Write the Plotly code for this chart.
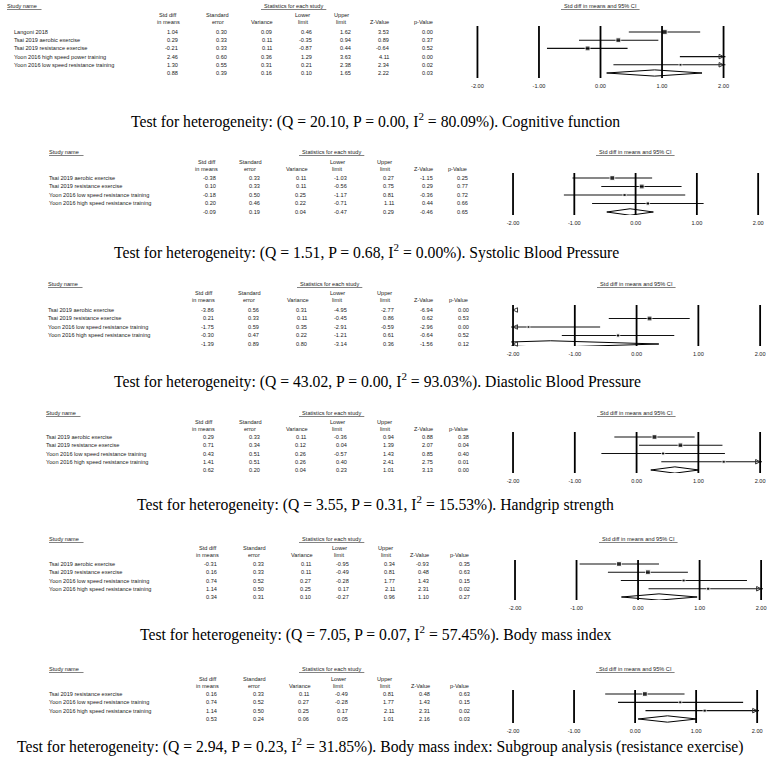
import plotly.graph_objects as go

W, H = 775, 771

# ---- data ----
cog_names = ["Langoni 2018", "Tsai 2019 aerobic exercise", "Tsai 2019 resistance exercise",
             "Yoon 2016 high speed power training", "Yoon 2016 low speed resistance training"]
cog_smd = [1.04, 0.29, -0.21, 2.46, 1.30, 0.88]
cog_se = [0.30, 0.33, 0.33, 0.60, 0.55, 0.39]
cog_var = [0.09, 0.11, 0.11, 0.36, 0.31, 0.16]
cog_lower = [0.46, -0.35, -0.87, 1.29, 0.21, 0.10]
cog_upper = [1.62, 0.94, 0.44, 3.63, 2.38, 1.65]
cog_z = [3.53, 0.89, -0.64, 4.11, 2.34, 2.22]
cog_p = [0.00, 0.37, 0.52, 0.00, 0.02, 0.03]

sbp_names = ["Tsai 2019 aerobic exercise", "Tsai 2019 resistance exercise",
             "Yoon 2016 low speed resistance training", "Yoon 2016 high speed resistance training"]
sbp_smd = [-0.38, 0.10, -0.18, 0.20, -0.09]
sbp_se = [0.33, 0.33, 0.50, 0.46, 0.19]
sbp_var = [0.11, 0.11, 0.25, 0.22, 0.04]
sbp_lower = [-1.03, -0.56, -1.17, -0.71, -0.47]
sbp_upper = [0.27, 0.75, 0.81, 1.11, 0.29]
sbp_z = [-1.15, 0.29, -0.36, 0.44, -0.46]
sbp_p = [0.25, 0.77, 0.72, 0.66, 0.65]

dbp_names = ["Tsai 2019 aerobic exercise", "Tsai 2019 resistance exercise",
             "Yoon 2016 low speed resistance training", "Yoon 2016 high speed resistance training"]
dbp_smd = [-3.86, 0.21, -1.75, -0.30, -1.39]
dbp_se = [0.56, 0.33, 0.59, 0.47, 0.89]
dbp_var = [0.31, 0.11, 0.35, 0.22, 0.80]
dbp_lower = [-4.95, -0.45, -2.91, -1.21, -3.14]
dbp_upper = [-2.77, 0.86, -0.59, 0.61, 0.36]
dbp_z = [-6.94, 0.62, -2.96, -0.64, -1.56]
dbp_p = [0.00, 0.53, 0.00, 0.52, 0.12]

hgs_names = ["Tsai 2019 aerobic exercise", "Tsai 2019 resistance exercise",
             "Yoon 2016 low speed resistance training", "Yoon 2016 high speed resistance training"]
hgs_smd = [0.29, 0.71, 0.43, 1.41, 0.62]
hgs_se = [0.33, 0.34, 0.51, 0.51, 0.20]
hgs_var = [0.11, 0.12, 0.26, 0.26, 0.04]
hgs_lower = [-0.36, 0.04, -0.57, 0.40, 0.23]
hgs_upper = [0.94, 1.39, 1.43, 2.41, 1.01]
hgs_z = [0.88, 2.07, 0.85, 2.75, 3.13]
hgs_p = [0.38, 0.04, 0.40, 0.01, 0.00]

bmi_names = ["Tsai 2019 aerobic exercise", "Tsai 2019 resistance exercise",
             "Yoon 2016 low speed resistance training", "Yoon 2016 high speed resistance training"]
bmi_smd = [-0.31, 0.16, 0.74, 1.14, 0.34]
bmi_se = [0.33, 0.33, 0.52, 0.50, 0.31]
bmi_var = [0.11, 0.11, 0.27, 0.25, 0.10]
bmi_lower = [-0.95, -0.49, -0.28, 0.17, -0.27]
bmi_upper = [0.34, 0.81, 1.77, 2.11, 0.96]
bmi_z = [-0.93, 0.48, 1.43, 2.31, 1.10]
bmi_p = [0.35, 0.63, 0.15, 0.02, 0.27]

sub_names = ["Tsai 2019 resistance exercise", "Yoon 2016 low speed resistance training",
             "Yoon 2016 high speed resistance training"]
sub_smd = [0.16, 0.74, 1.14, 0.53]
sub_se = [0.33, 0.52, 0.50, 0.24]
sub_var = [0.11, 0.27, 0.25, 0.06]
sub_lower = [-0.49, -0.28, 0.17, 0.05]
sub_upper = [0.81, 1.77, 2.11, 1.01]
sub_z = [0.48, 1.43, 2.31, 2.16]
sub_p = [0.63, 0.15, 0.02, 0.03]

captions = [
    "Test for heterogeneity: (Q = 20.10, P = 0.00, I<sup>2</sup> = 80.09%). Cognitive function",
    "Test for heterogeneity: (Q = 1.51, P = 0.68, I<sup>2</sup> = 0.00%). Systolic Blood Pressure",
    "Test for heterogeneity: (Q = 43.02, P = 0.00, I<sup>2</sup> = 93.03%). Diastolic Blood Pressure",
    "Test for heterogeneity: (Q = 3.55, P = 0.31, I<sup>2</sup> = 15.53%). Handgrip strength",
    "Test for heterogeneity: (Q = 7.05, P = 0.07, I<sup>2</sup> = 57.45%). Body mass index",
    "Test for heterogeneity: (Q = 2.94, P = 0.23, I<sup>2</sup> = 31.85%). Body mass index: "
    "Subgroup analysis (resistance exercise)",
]

hdr_top = ["Std diff", "Standard", "", "Lower", "Upper", "", ""]
hdr_bot = ["in means", "error", "Variance", "limit", "limit", "Z-Value", "p-Value"]
tick_vals = [-2, -1, 0, 1, 2]

# ---- where each panel sits on the page (pixels) ----
panels = [
    dict(names=cog_names, cols=[cog_smd, cog_se, cog_var, cog_lower, cog_upper, cog_z, cog_p],
         title_y=6, hdr_y=(15, 22), row0=32, dy=8.2, name_x=7, study_x=0, stats_x=292,
         col_x=[177, 227, 272, 313, 352, 391, 435], fx=(478, 727), vy=(26, 78),
         cap=(125, 120)),
    dict(names=sbp_names, cols=[sbp_smd, sbp_se, sbp_var, sbp_lower, sbp_upper, sbp_z, sbp_p],
         title_y=152, hdr_y=(162, 169), row0=178, dy=8.5, name_x=42, study_x=42, stats_x=330,
         col_x=[216, 260, 307, 348, 396, 435, 470], fx=(514, 762), vy=(173, 215),
         cap=(108, 252)),
    dict(names=dbp_names, cols=[dbp_smd, dbp_se, dbp_var, dbp_lower, dbp_upper, dbp_z, dbp_p],
         title_y=284, hdr_y=(293, 300), row0=310, dy=8.5, name_x=41, study_x=41, stats_x=328,
         col_x=[213, 259, 308, 348, 396, 435, 471], fx=(514, 764), vy=(305, 346),
         cap=(108, 380)),
    dict(names=hgs_names, cols=[hgs_smd, hgs_se, hgs_var, hgs_lower, hgs_upper, hgs_z, hgs_p],
         title_y=413, hdr_y=(422, 429), row0=437, dy=8.25, name_x=39, study_x=39, stats_x=330,
         col_x=[213, 260, 307, 348, 396, 435, 471], fx=(514, 764), vy=(432, 473),
         cap=(132, 503)),
    dict(names=bmi_names, cols=[bmi_smd, bmi_se, bmi_var, bmi_lower, bmi_upper, bmi_z, bmi_p],
         title_y=539, hdr_y=(548, 555), row0=564, dy=8.25, name_x=42, study_x=42, stats_x=330,
         col_x=[217, 264, 312, 350, 397, 431, 472], fx=(516, 765), vy=(560, 600),
         cap=(135, 633)),
    dict(names=sub_names, cols=[sub_smd, sub_se, sub_var, sub_lower, sub_upper, sub_z, sub_p],
         title_y=669, hdr_y=(679, 686), row0=694, dy=8.33, name_x=42, study_x=42, stats_x=330,
         col_x=[217, 264, 310, 349, 396, 432, 472], fx=(514, 761), vy=(690, 723),
         cap=(10, 745)),
]

SANS = "Liberation Sans"
SERIF = "Liberation Serif"
TXT = "#222222"
PAD = 0.03  # a little room past +-2 so the edge reference lines are not clipped

fig = go.Figure()
annotations = []
shapes = []
layout = {}


def ann(text, x, y, yref, xanchor="left", size=5.6, family=SANS, color=TXT):
    annotations.append(dict(text=text, x=x, y=y, xref="paper", yref=yref, xanchor=xanchor,
                            yanchor="middle", showarrow=False,
                            font=dict(family=family, size=size, color=color)))


for i, p in enumerate(panels, start=1):
    sfx = "" if i == 1 else str(i)
    xa, ya = "x" + sfx, "y" + sfx
    smd, se, var, lower, upper, z, pv = p["cols"]
    n = len(p["names"])
    rows = list(range(n + 1))
    r0, dy = p["row0"], p["dy"]
    vt, vb = p["vy"]
    xl, xr = p["fx"]
    unit = (xr - xl) / 4

    layout["xaxis" + sfx] = dict(domain=[(xl - PAD * unit) / W, (xr + PAD * unit) / W],
                                 range=[-2 - PAD, 2 + PAD], anchor=ya,
                                 showgrid=False, zeroline=False, showline=False, ticks="",
                                 tickvals=tick_vals, ticktext=[f"{v:.2f}" for v in tick_vals],
                                 tickfont=dict(family=SANS, size=5.6, color=TXT),
                                 ticklabelstandoff=3, fixedrange=True)
    layout["yaxis" + sfx] = dict(domain=[1 - vb / H, 1 - vt / H],
                                 range=[(vb - r0) / dy, (vt - r0) / dy], anchor=xa,
                                 visible=False, fixedrange=True)

    # reference lines at each tick
    for v in tick_vals:
        shapes.append(dict(type="line", xref=xa, yref=ya + " domain", x0=v, x1=v, y0=0, y1=1,
                           line=dict(color="black", width=1.8)))

    # confidence intervals of the studies
    for k in range(n):
        fig.add_trace(go.Scatter(x=[lower[k], upper[k]], y=[rows[k], rows[k]], mode="lines",
                                 line=dict(color="#111111", width=1.1), xaxis=xa, yaxis=ya,
                                 hoverinfo="skip", showlegend=False))
    fig.add_trace(go.Scatter(x=smd[:n], y=rows[:n], mode="markers",
                             marker=dict(symbol="square", color="black",
                                         size=[1.6 / s for s in se[:n]]),
                             xaxis=xa, yaxis=ya, hoverinfo="skip", showlegend=False))

    # pooled diamond
    h = 0.38
    fig.add_trace(go.Scatter(x=[lower[n], smd[n], upper[n], smd[n], lower[n]],
                             y=[rows[n], rows[n] - h, rows[n], rows[n] + h, rows[n]],
                             mode="lines", fill="toself", fillcolor="white",
                             line=dict(color="black", width=1), xaxis=xa, yaxis=ya,
                             hoverinfo="skip", showlegend=False))

    # arrows for intervals running past the axis
    ax_x, ax_y, ax_s = [], [], []
    for k in rows:
        if upper[k] > 2:
            ax_x.append(2); ax_y.append(k); ax_s.append("arrow-right-open")
        if lower[k] < -2:
            ax_x.append(-2); ax_y.append(k); ax_s.append("arrow-left-open")
    if ax_x:
        fig.add_trace(go.Scatter(x=ax_x, y=ax_y, mode="markers", cliponaxis=False,
                                 marker=dict(symbol=ax_s, size=4.5, color="#333333",
                                             line=dict(width=1, color="#333333")),
                                 xaxis=xa, yaxis=ya, hoverinfo="skip", showlegend=False))

    # table headers
    ann("<u>Study name&nbsp;&nbsp;&nbsp;</u>", p["study_x"] / W, 1 - p["title_y"] / H, "paper")
    ann("<u>&nbsp;&nbsp;Statistics for each study&nbsp;&nbsp;</u>", p["stats_x"] / W,
        1 - p["title_y"] / H, "paper", xanchor="center")
    ann("<u>&nbsp;&nbsp;Std diff in means and 95% CI&nbsp;&nbsp;</u>",
        (xl + xr) / 2 / W, 1 - p["title_y"] / H, "paper", xanchor="center")
    for c, cx in enumerate(p["col_x"]):
        if hdr_top[c]:
            ann(hdr_top[c], (cx - 12) / W, 1 - p["hdr_y"][0] / H, "paper", xanchor="center")
        ann(hdr_bot[c], (cx - 12) / W, 1 - p["hdr_y"][1] / H, "paper", xanchor="center")

    # table body
    for k in rows:
        if k < n:
            ann(p["names"][k], p["name_x"] / W, k, ya)
        for c, cx in enumerate(p["col_x"]):
            ann(f"{p['cols'][c][k]:.2f}", cx / W, k, ya, xanchor="right")

    # caption below the panel
    ann(captions[i - 1], p["cap"][0] / W, 1 - p["cap"][1] / H, "paper", size=15.7, family=SERIF,
        color="black")

fig.update_layout(width=W, height=H, margin=dict(l=0, r=0, t=0, b=0),
                  paper_bgcolor="white", plot_bgcolor="rgba(0,0,0,0)",
                  showlegend=False, annotations=annotations, shapes=shapes, **layout)

fig.write_html("out.html", config={"displayModeBar": False},
               post_script="document.body.style.margin='0';")
